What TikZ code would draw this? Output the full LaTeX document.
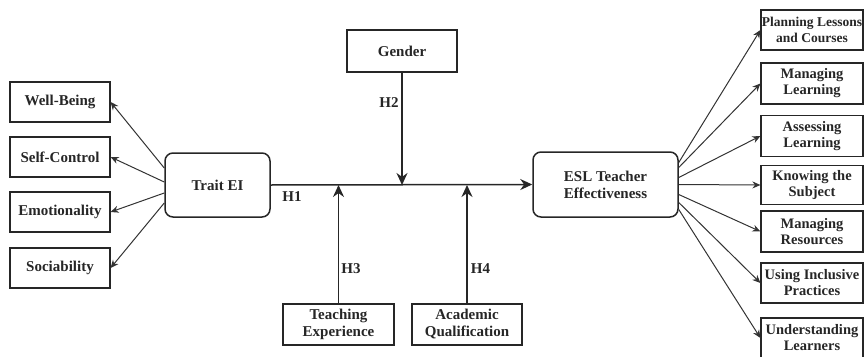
\documentclass[tikz,border=0pt]{standalone}
\usepackage{fontspec}
\setmainfont{Liberation Serif}
\usetikzlibrary{arrows.meta,calc}
\begin{document}
\begin{tikzpicture}[x=1pt,y=-1pt,
  box/.style={draw=black!85,line width=1.2pt,inner sep=0pt,align=center,font=\fontsize{15}{17}\selectfont\bfseries,text=black!85},
  rtbox/.style={box,font=\fontsize{14.5}{16}\selectfont\bfseries},
  rbox/.style={box,rounded corners=8pt,line width=1.5pt},
  lbl/.style={inner sep=0pt,font=\fontsize{15}{16}\selectfont\bfseries,text=black!85},
  thin/.style={draw=black!80,line width=1pt,-{Stealth[length=8pt,width=7pt]}},
  main/.style={draw=black!85,line width=1.5pt,-{Stealth[length=12pt,width=11pt]}}]
\useasboundingbox (0,0) rectangle (864,356);
% central nodes
\node[rbox,minimum width=105pt,minimum height=64pt] (tei) at (217.5,185) {Trait EI};
\node[rbox,minimum width=145pt,minimum height=65pt] (esl) at (605.5,184.5) {ESL Teacher\\Effectiveness};
\node[box,minimum width=110pt,minimum height=42pt] (gen) at (402,51) {Gender};
\node[box,minimum width=111pt,minimum height=41pt] (te) at (338.5,324.5) {Teaching\\Experience};
\node[box,minimum width=110pt,minimum height=41pt] (aq) at (467,324.5) {Academic\\Qualification};
% left boxes
\node[box,minimum width=100pt,minimum height=40pt] (wb) at (60,102) {Well-Being};
\node[box,minimum width=100pt,minimum height=40pt] (sc) at (60,157) {Self-Control};
\node[box,minimum width=100pt,minimum height=40pt] (em) at (60,212) {Emotionality};
\node[box,minimum width=100pt,minimum height=40pt] (so) at (60,268) {Sociability};
% right boxes
\node[rtbox,font=\fontsize{13.5}{15.5}\selectfont\bfseries,minimum width=102pt,minimum height=40pt] (pl) at (812,30) {Planning Lessons\\and Courses};
\node[rtbox,minimum width=102pt,minimum height=41pt] (ml) at (812,83.5) {Managing\\Learning};
\node[rtbox,minimum width=102pt,minimum height=41pt] (al) at (812,136) {Assessing\\Learning};
\node[rtbox,minimum width=102pt,minimum height=39pt] (ks) at (812,185) {Knowing the\\Subject};
\node[rtbox,minimum width=102pt,minimum height=41pt] (mr) at (812,231.5) {Managing\\Resources};
\node[rtbox,minimum width=102pt,minimum height=40pt] (ui) at (812,283) {Using Inclusive\\Practices};
\node[rtbox,minimum width=102pt,minimum height=40pt] (ul) at (812,338) {Understanding\\Learners};
% junctions
\coordinate (j2) at (402,185);
\coordinate (j3) at (338.5,185);
\coordinate (j4) at (467,185);
% main path
\draw[main] (tei.east) -- (esl.west);
\draw[main] (gen.south) -- (j2);
\draw[main] (te.north) -- (j3);
\draw[main] (aq.north) -- (j4);
% labels
\node[lbl] (h1) at (292,197) {H1};
\node[lbl] (h2) at (389,103) {H2};
\node[lbl] (h3) at (351,269) {H3};
\node[lbl] (h4) at (480.5,269) {H4};
% left arrows
\draw[thin] ($(tei.west)+(0,-17)$) -- (wb.east);
\draw[thin] ($(tei.west)+(0,-3)$) -- (sc.east);
\draw[thin] ($(tei.west)+(0,8)$) -- (em.east);
\draw[thin] ($(tei.west)+(0,18)$) -- (so.east);
% right arrows
\draw[thin] ($(esl.east)+(0,-22)$) -- (pl.west);
\draw[thin] ($(esl.east)+(0,-17)$) -- (ml.west);
\draw[thin] ($(esl.east)+(0,-7)$) -- (al.west);
\draw[thin] ($(esl.east)+(0,0)$) -- (ks.west);
\draw[thin] ($(esl.east)+(0,10)$) -- (mr.west);
\draw[thin] ($(esl.east)+(0,18)$) -- (ui.west);
\draw[thin] ($(esl.east)+(0,25)$) -- (ul.west);
\end{tikzpicture}
\end{document}
